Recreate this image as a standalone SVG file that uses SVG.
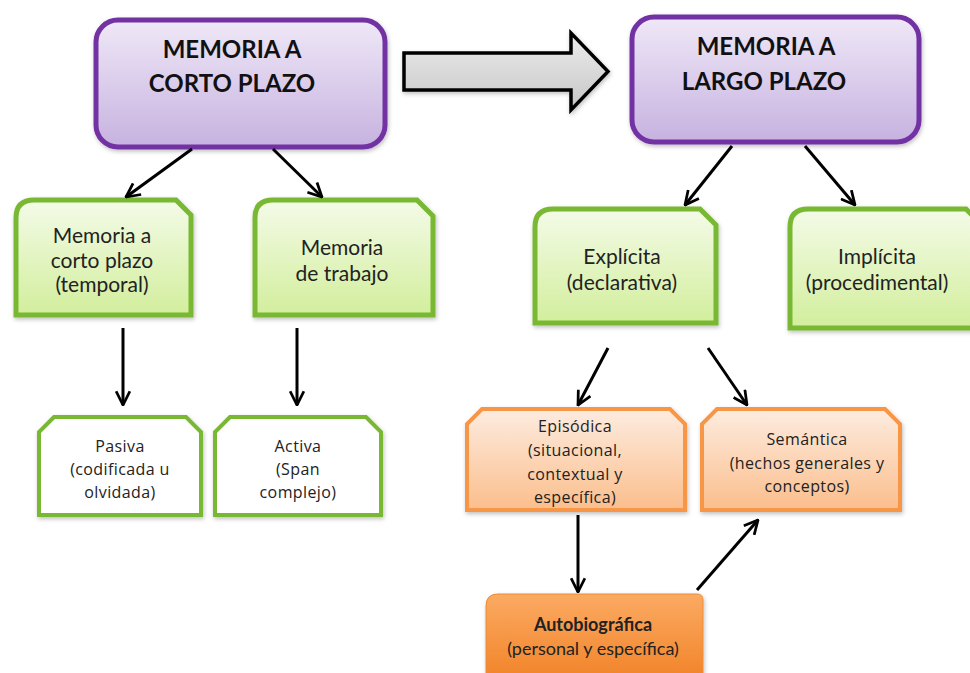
<svg xmlns="http://www.w3.org/2000/svg" width="970" height="673" viewBox="0 0 970 673">
  <defs>
    <linearGradient id="gPurple" x1="0" y1="0" x2="0" y2="1">
      <stop offset="0" stop-color="#efe8f7"/>
      <stop offset="1" stop-color="#c7b2e0"/>
    </linearGradient>
    <linearGradient id="gGreen" x1="0" y1="0" x2="0" y2="1">
      <stop offset="0" stop-color="#f4fbe8"/>
      <stop offset="1" stop-color="#d2ee9c"/>
    </linearGradient>
    <linearGradient id="gOrange" x1="0" y1="0" x2="0" y2="1">
      <stop offset="0" stop-color="#fdece0"/>
      <stop offset="1" stop-color="#fbbe8c"/>
    </linearGradient>
    <linearGradient id="gAuto" x1="0" y1="0" x2="0" y2="1">
      <stop offset="0" stop-color="#fbaa62"/>
      <stop offset="1" stop-color="#f07f22"/>
    </linearGradient>
    <linearGradient id="gGray" x1="0" y1="0" x2="0" y2="1">
      <stop offset="0" stop-color="#ececec"/>
      <stop offset="1" stop-color="#c6c6c6"/>
    </linearGradient>
    <filter id="shadow" x="-10%" y="-10%" width="120%" height="125%">
      <feDropShadow dx="1" dy="2" stdDeviation="2" flood-color="#000" flood-opacity="0.25"/>
    </filter>
    <marker id="head" viewBox="0 0 14 14" refX="13" refY="7" markerWidth="16" markerHeight="16" markerUnits="userSpaceOnUse" orient="auto">
      <path d="M1,1 L13,7 L1,13" fill="none" stroke="#000" stroke-width="2.4" stroke-linejoin="miter"/>
    </marker>
  </defs>
  <style>
    .purple { fill: url(#gPurple); stroke: #7232a3; stroke-width: 5; filter: url(#shadow); }
    .green { fill: url(#gGreen); stroke: #78b833; stroke-width: 5; filter: url(#shadow); }
    .white { fill: #ffffff; stroke: #78b833; stroke-width: 4; filter: url(#shadow); }
    .orange { fill: url(#gOrange); stroke: #f79646; stroke-width: 4; filter: url(#shadow); }
    .auto { fill: url(#gAuto); stroke: #f08a32; stroke-width: 1; filter: url(#shadow); }
    .title { font-family: Lato, "Liberation Sans", sans-serif; font-weight: bold; font-size: 24px; fill: #111; text-anchor: middle; }
    .lbl { font-family: Lato, "Liberation Sans", sans-serif; font-size: 21px; fill: #222; text-anchor: middle; }
    .sm { font-family: "Open Sans", "Liberation Sans", sans-serif; font-size: 16px; letter-spacing: 0.4px; fill: #222; text-anchor: middle; }
    .au { font-family: Lato, "Liberation Sans", sans-serif; font-size: 18px; fill: #222; text-anchor: middle; }
    .conn line { stroke: #000; stroke-width: 3; marker-end: url(#head); }
  </style>

  <rect width="970" height="673" fill="#ffffff"/>

  <!-- transition arrow between the two memory stores -->
  <g id="transition">
    <path d="M404,53 L571,53 L571,33 L608,71.5 L571,110 L571,90 L404,90 Z" fill="url(#gGray)" stroke="#000" stroke-width="3.5" stroke-linejoin="miter" filter="url(#shadow)"/>
  </g>

  <g id="corto">
    <rect x="96" y="20" width="289" height="127" rx="22" class="purple"/>
    <text x="232" y="58" class="title">MEMORIA A</text>
    <text x="232" y="92" class="title">CORTO PLAZO</text>
  </g>

  <g id="largo">
    <rect x="632" y="17" width="287" height="125" rx="22" class="purple"/>
    <text x="766" y="55" class="title">MEMORIA A</text>
    <text x="764" y="90" class="title">LARGO PLAZO</text>
  </g>

  <g id="temporal">
    <path d="M16,315 L16,218 Q16,200 34,200 L176,200 L191,215 L191,315 Z" class="green"/>
    <text x="102" y="243" class="lbl">Memoria a</text>
    <text x="102" y="268" class="lbl">corto plazo</text>
    <text x="102" y="292" class="lbl">(temporal)</text>
  </g>

  <g id="trabajo">
    <path d="M255,315 L255,218 Q255,200 273,200 L417,200 L433,216 L433,315 Z" class="green"/>
    <text x="342" y="255" class="lbl">Memoria</text>
    <text x="342" y="281" class="lbl">de  trabajo</text>
  </g>

  <g id="explicita">
    <path d="M535,323 L535,227 Q535,209 553,209 L700,209 L716,225 L716,323 Z" class="green"/>
    <text x="622" y="264" class="lbl">Explícita</text>
    <text x="622" y="290" class="lbl">(declarativa)</text>
  </g>

  <g id="implicita">
    <path d="M790,328 L790,227 Q790,209 808,209 L966,209 L982,225 L982,328 Z" class="green"/>
    <text x="877" y="264" class="lbl">Implícita</text>
    <text x="877" y="290" class="lbl">(procedimental)</text>
  </g>

  <g id="pasiva">
    <path d="M39,515 L39,432 L54,417 L186,417 L201,432 L201,515 Z" class="white"/>
    <text x="120" y="452" class="sm">Pasiva</text>
    <text x="120" y="475" class="sm">(codificada u</text>
    <text x="120" y="498" class="sm">olvidada)</text>
  </g>

  <g id="activa">
    <path d="M215,515 L215,432 L230,417 L366,417 L381,432 L381,515 Z" class="white"/>
    <text x="298" y="452" class="sm">Activa</text>
    <text x="298" y="475" class="sm">(Span</text>
    <text x="298" y="498" class="sm">complejo)</text>
  </g>

  <g id="episodica">
    <path d="M467,510 L467,424 L482,409 L670,409 L685,424 L685,510 Z" class="orange"/>
    <text x="575" y="432" class="sm">Episódica</text>
    <text x="575" y="456" class="sm">(situacional,</text>
    <text x="575" y="480" class="sm">contextual y</text>
    <text x="575" y="503" class="sm">específica)</text>
  </g>

  <g id="semantica">
    <path d="M702,510 L702,424 L717,409 L885,409 L900,424 L900,510 Z" class="orange"/>
    <text x="807" y="445" class="sm">Semántica</text>
    <text x="807" y="469" class="sm">(hechos generales y</text>
    <text x="807" y="492" class="sm">conceptos)</text>
  </g>

  <g id="autobiografica">
    <path d="M486,690 L486,606 Q486,594 498,594 L697,594 Q703,594 703,600 L703,690 Z" class="auto"/>
    <text x="593" y="631" class="au" font-weight="bold">Autobiográfica</text>
    <text x="593" y="655" class="au">(personal y específica)</text>
  </g>

  <g id="connectors" class="conn">
    <line x1="192" y1="149" x2="126" y2="197"/>
    <line x1="273" y1="149" x2="322" y2="197"/>
    <line x1="732" y1="146" x2="685" y2="205"/>
    <line x1="805" y1="146" x2="855" y2="205"/>
    <line x1="123" y1="328" x2="123" y2="405"/>
    <line x1="297" y1="328" x2="297" y2="405"/>
    <line x1="608" y1="348" x2="578" y2="405"/>
    <line x1="708" y1="348" x2="747" y2="405"/>
    <line x1="578" y1="515" x2="578" y2="592"/>
    <line x1="697" y1="590" x2="758" y2="520"/>
  </g>
</svg>
